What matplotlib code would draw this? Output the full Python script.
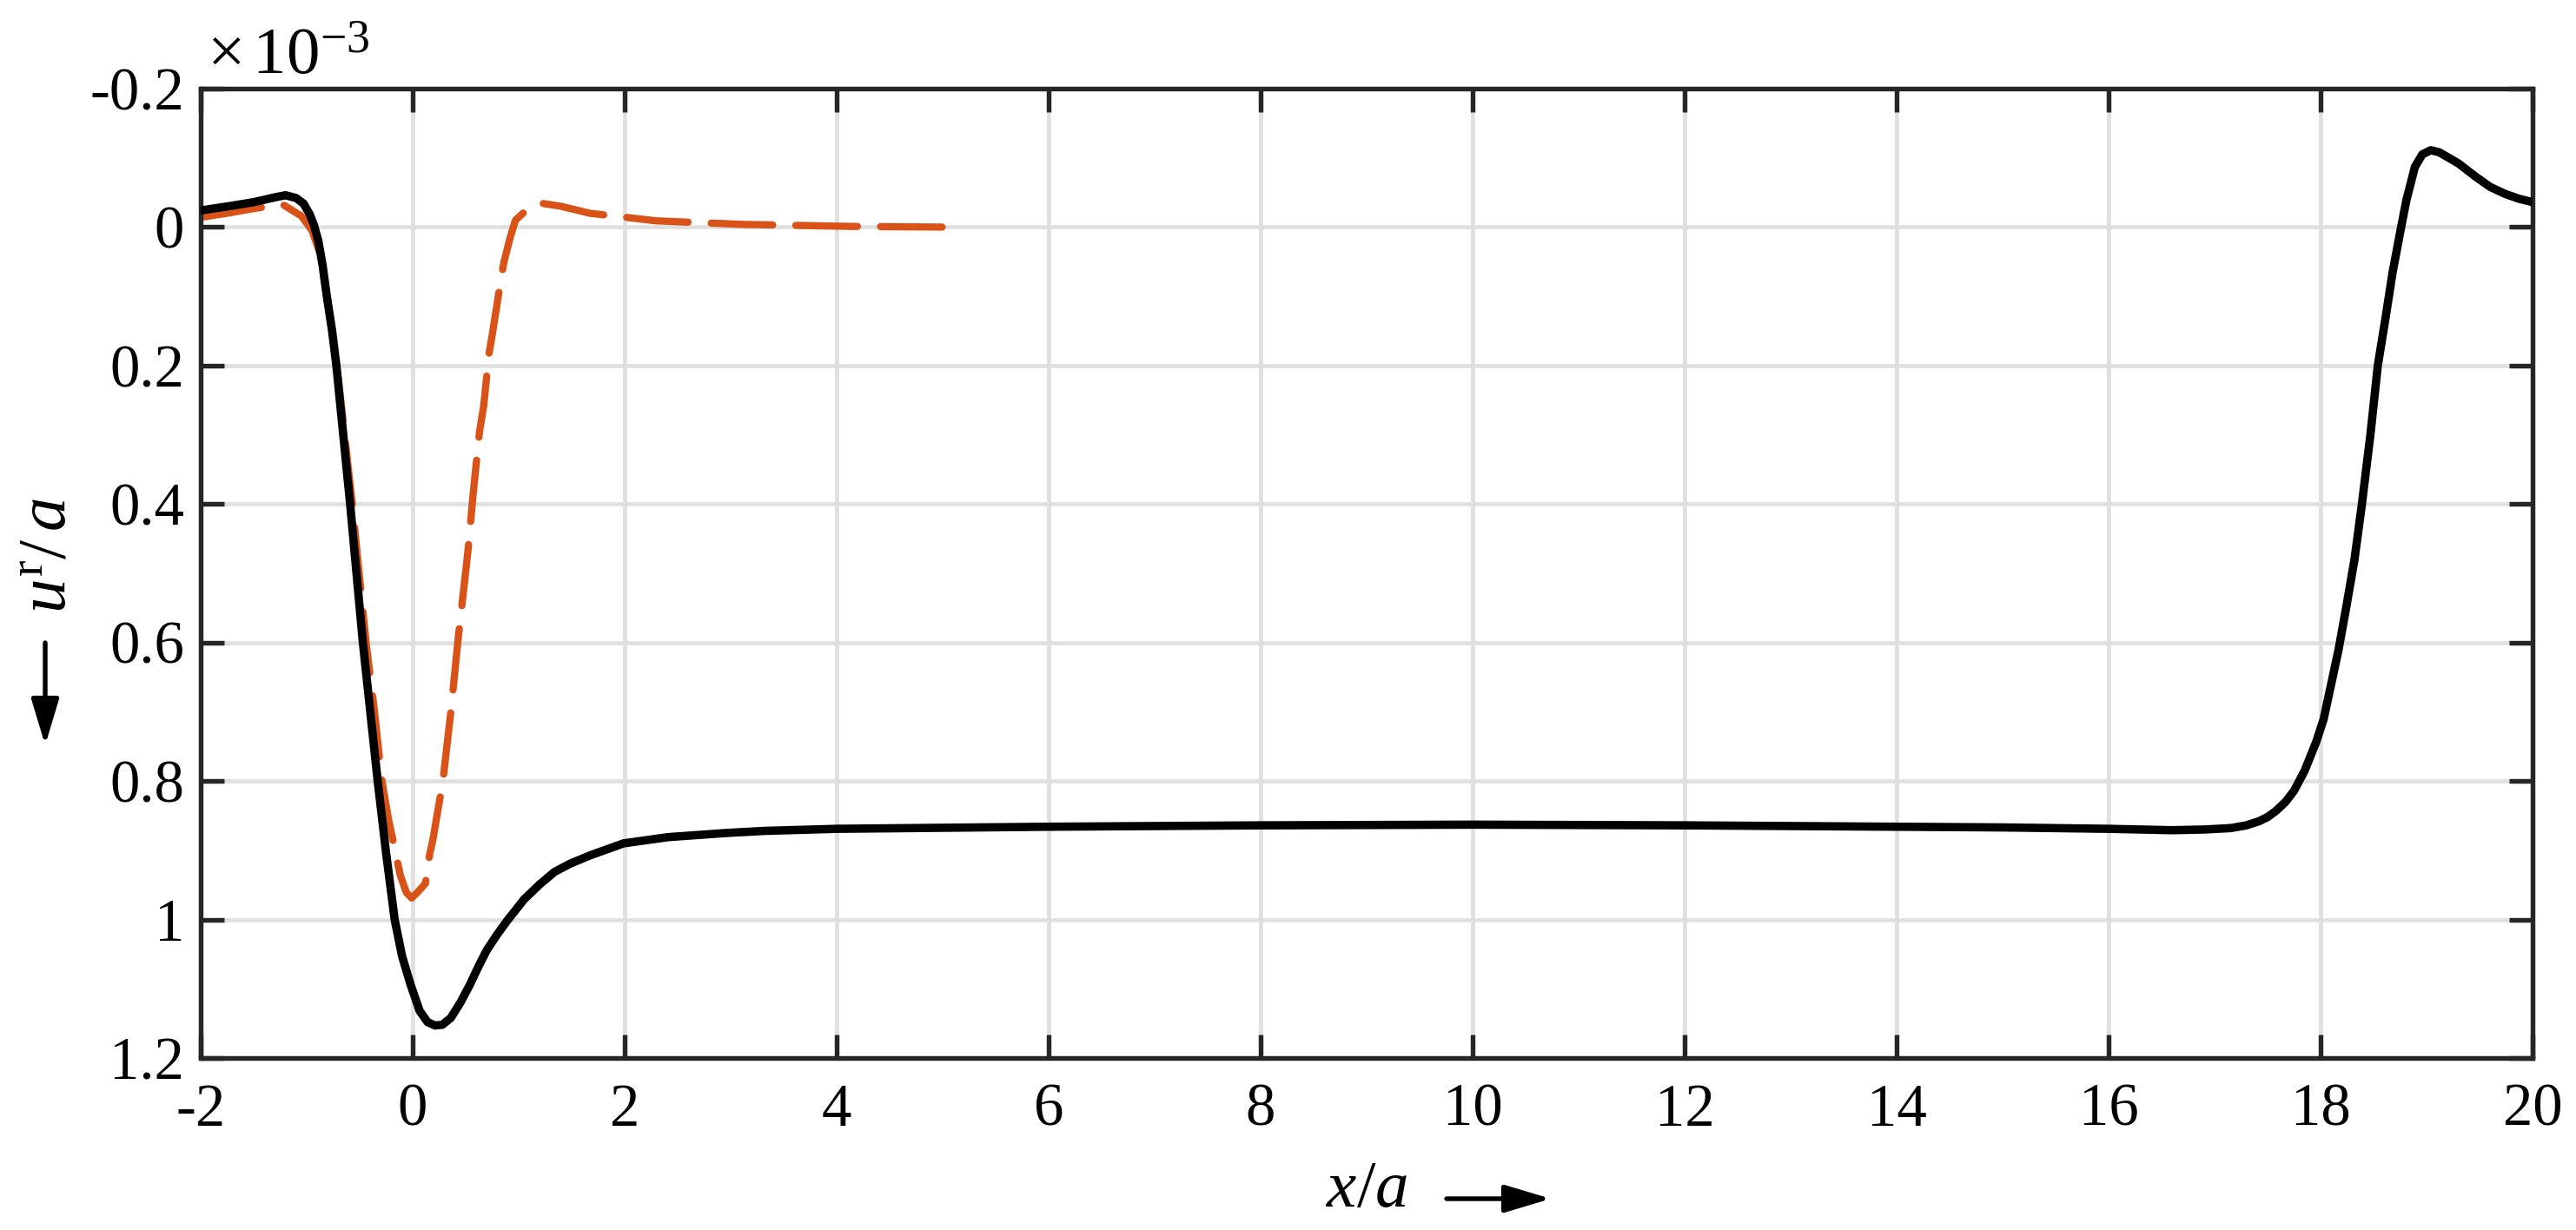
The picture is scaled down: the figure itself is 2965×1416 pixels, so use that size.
import matplotlib
matplotlib.use("Agg")
import matplotlib.pyplot as plt
import numpy as np
from matplotlib.ticker import FuncFormatter

# black solid curve: x/a and u^r/a (in units of 1e-3)
x_black = [-2.0, -1.7, -1.5, -1.3, -1.2, -1.1, -1.03, -0.97, -0.93, -0.89,
           -0.85, -0.81, -0.76, -0.72, -0.59, -0.47, -0.33, -0.25, -0.17, -0.10,
           -0.02, 0.066, 0.14, 0.21, 0.28, 0.36, 0.45, 0.54, 0.62, 0.70,
           0.80, 0.89, 1.05, 1.20, 1.34, 1.49, 1.68, 1.99, 2.41, 2.96,
           3.32, 4.0, 6.0, 8.0, 10.0, 12.0, 14.0, 15.0, 16.0, 16.6,
           16.9, 17.15, 17.3, 17.42, 17.5, 17.58, 17.67, 17.75, 17.85, 17.96,
           18.03, 18.1, 18.17, 18.24, 18.32, 18.39, 18.47, 18.54, 18.61, 18.68,
           18.76, 18.81, 18.89, 18.96, 19.04, 19.12, 19.3, 19.47, 19.6, 19.74,
           19.87, 20.0]
u_black = [-0.024, -0.031, -0.036, -0.043, -0.046, -0.042, -0.034, -0.018, -0.002, 0.02,
           0.055, 0.10, 0.15, 0.20, 0.40, 0.60, 0.80, 0.905, 1.0, 1.053,
           1.094, 1.132, 1.148, 1.153, 1.152, 1.142, 1.12, 1.094, 1.068, 1.044,
           1.021, 1.002, 0.971, 0.949, 0.931, 0.919, 0.907, 0.890, 0.881, 0.875,
           0.872, 0.869, 0.866, 0.864, 0.863, 0.864, 0.866, 0.867, 0.869, 0.871,
           0.870, 0.868, 0.864, 0.858, 0.852, 0.843, 0.830, 0.814, 0.785, 0.743,
           0.71, 0.66, 0.61, 0.551, 0.48, 0.40, 0.30, 0.20, 0.134, 0.065,
           0.0, -0.039, -0.087, -0.105, -0.111, -0.108, -0.092, -0.072, -0.058, -0.048,
           -0.041, -0.036]

# orange dashed curve
x_orange = [-2.0, -1.75, -1.49, -1.23, -1.05, -0.95, -0.87, -0.79, -0.70, -0.57,
            -0.44, -0.36, -0.29, -0.227, -0.117, -0.06, -0.01, 0.05, 0.12, 0.16,
            0.19, 0.285, 0.36, 0.43, 0.52, 0.57, 0.63, 0.67, 0.72, 0.75,
            0.83, 0.86, 0.92, 0.97, 1.04, 1.19, 1.40, 1.67, 2.30, 3.09,
            4.13, 5.0]
u_orange = [-0.014, -0.020, -0.027, -0.033, -0.016, 0.005, 0.04, 0.12, 0.22, 0.40,
            0.60, 0.70, 0.80, 0.856, 0.936, 0.961, 0.969, 0.960, 0.948, 0.906,
            0.885, 0.80, 0.70, 0.593, 0.47, 0.386, 0.296, 0.258, 0.183, 0.156,
            0.078, 0.051, 0.015, -0.010, -0.020, -0.035, -0.030, -0.020, -0.009, -0.004,
            -0.001, 0.0]

xticks = np.arange(-2, 21, 2)
yticks = [-0.2, 0, 0.2, 0.4, 0.6, 0.8, 1.0, 1.2]

plt.rcParams['font.family'] = ['Liberation Serif', 'DejaVu Serif']
plt.rcParams['mathtext.fontset'] = 'custom'
plt.rcParams['mathtext.rm'] = 'Liberation Serif'
plt.rcParams['mathtext.it'] = 'Liberation Serif:italic'
plt.rcParams['axes.unicode_minus'] = False

fig = plt.figure(figsize=(2965 / 300, 1416 / 300), dpi=300)
ax = fig.add_axes([231 / 2965, 198 / 1416, 2684 / 2965, 1116 / 1416])

ax.plot(x_black, u_black, color='black', lw=2.3, solid_joinstyle='round',
        solid_capstyle='round', zorder=3)
ax.plot(x_orange, u_orange, color='#D95319', lw=2.0, dashes=(8.5, 3.2),
        dash_capstyle='round', zorder=2)

ax.set_xlim(-2, 20)
ax.set_ylim(1.2, -0.2)
ax.set_xticks(xticks)
ax.set_yticks(yticks)
fmt = FuncFormatter(lambda v, p: '%g' % round(v, 6))
ax.xaxis.set_major_formatter(fmt)
ax.yaxis.set_major_formatter(fmt)

ax.grid(True, color='#dfdfdf', lw=1.1)
ax.set_axisbelow(True)
for s in ax.spines.values():
    s.set_color('#262626')
    s.set_linewidth(1.3)
ax.tick_params(direction='in', length=6.5, width=1.3, color='#262626',
               top=True, right=True, labelsize=16.5, labelcolor='black')
ax.tick_params(axis='x', pad=7)
ax.tick_params(axis='y', pad=4.5)

ax.set_xlabel(r'$x/a$', fontsize=18.5, labelpad=6)
fig.text(57 / 2965, 1 - 640 / 1416, r'$u^{\mathrm{r}}/\,a$', rotation=90,
         ha='center', va='center', fontsize=19)
fig.text(238 / 2965, 1 - 85 / 1416, r'$\times\,10^{-3}$', fontsize=18.5,
         ha='left', va='baseline')

arrow = dict(arrowstyle='-|>,head_length=0.4,head_width=0.12', color='black',
             lw=1.3, mutation_scale=27, shrinkA=0, shrinkB=0)
ax.annotate('', xy=(52 / 2965, 1 - 858 / 1416), xytext=(52 / 2965, 1 - 740 / 1416),
            xycoords='figure fraction', textcoords='figure fraction', arrowprops=arrow)
ax.annotate('', xy=(1785 / 2965, 1 - 1380 / 1416), xytext=(1665 / 2965, 1 - 1380 / 1416),
            xycoords='figure fraction', textcoords='figure fraction', arrowprops=arrow)

fig.savefig('out.png', dpi=300)
